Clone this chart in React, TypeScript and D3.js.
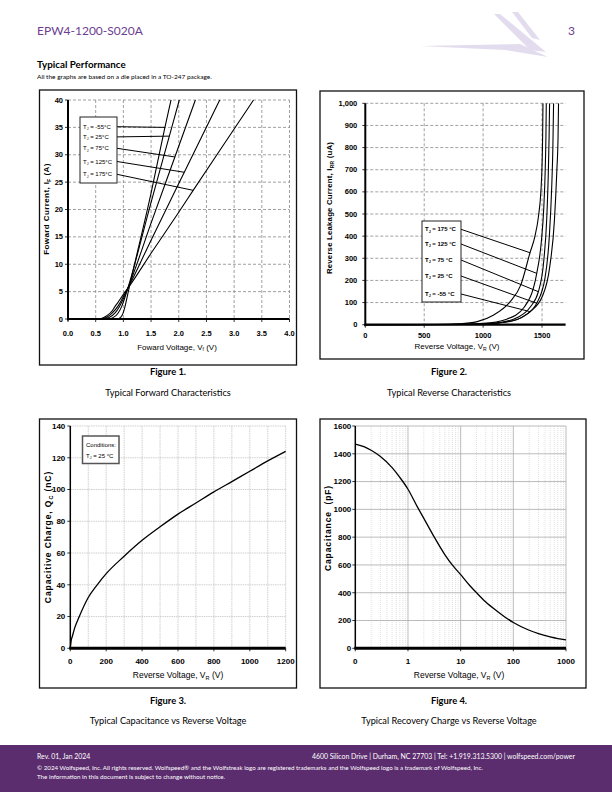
import React from 'react';
import * as d3 from 'd3';

// ---------- Figure 1 : forward characteristics ----------
const fwdLabels = ['-55°C', '25°C', '75°C', '125°C', '175°C'];
const fwdV_m55 = [0.88, 0.95, 1.0, 1.03, 1.1, 1.5, 1.75, 1.86];
const fwdI_m55 = [0, 0.3, 1.2, 2.3, 5.5, 23, 35, 40];
const fwdV_25 = [0.72, 0.82, 0.9, 0.97, 1.02, 1.08, 1.5, 1.83, 2.01];
const fwdI_25 = [0, 0.3, 1.0, 2.3, 3.7, 5.6, 21.3, 33.4, 40];
const fwdV_75 = [0.64, 0.75, 0.85, 0.93, 1.0, 1.08, 1.5, 1.93, 2.3];
const fwdI_75 = [0, 0.3, 1.1, 2.3, 3.7, 5.6, 17.5, 29.6, 40];
const fwdV_125 = [0.58, 0.7, 0.8, 0.9, 1.0, 1.08, 1.5, 2.1, 2.74];
const fwdI_125 = [0, 0.3, 1.1, 2.3, 4.1, 5.6, 14.4, 26.8, 40];
const fwdV_175 = [0.52, 0.6, 0.7, 0.8, 0.85, 0.9, 1.0, 1.08, 1.5, 2.0, 2.26, 3.0, 3.35];
const fwdI_175 = [0, 0.1, 0.6, 1.5, 2.3, 3.0, 4.5, 5.6, 12, 19.5, 23.5, 34.7, 40];
const fwdLeaderV = [1.75, 1.83, 1.93, 2.1, 2.26];
const fwdXTicks = [0, 0.5, 1.0, 1.5, 2.0, 2.5, 3.0, 3.5, 4.0];
const fwdYTicks = [0, 5, 10, 15, 20, 25, 30, 35, 40];

// ---------- Figure 2 : reverse characteristics ----------
const revLabels = ['175 °C', '125 °C', '75 °C', '25 °C', '-55 °C'];
const revV_175 = [0, 600, 800, 950, 1090, 1230, 1320, 1398, 1440, 1470, 1490, 1500, 1505, 1508];
const revI_175 = [0, 1, 4, 14, 44, 104, 180, 325, 400, 490, 600, 720, 850, 1000];
const revV_125 = [0, 700, 1000, 1200, 1350, 1455, 1495, 1515, 1527, 1533, 1536];
const revI_125 = [0, 1, 6, 25, 80, 232, 380, 530, 700, 850, 1000];
const revV_75 = [0, 800, 1100, 1300, 1400, 1469, 1515, 1540, 1553, 1560, 1564];
const revI_75 = [0, 1, 7, 35, 80, 149, 290, 480, 680, 850, 1000];
const revV_25 = [0, 900, 1200, 1350, 1455, 1525, 1562, 1582, 1592, 1598];
const revI_25 = [0, 1, 12, 40, 97, 210, 400, 620, 800, 1000];
const revV_m55 = [0, 1000, 1250, 1398, 1500, 1565, 1605, 1626, 1636, 1640];
const revI_m55 = [0, 2, 18, 59, 125, 260, 470, 700, 850, 1000];
const revLeaderV = [1398, 1455, 1469, 1455, 1398];
const revXTicks = [0, 500, 1000, 1500];
const revYTicks = [0, 100, 200, 300, 400, 500, 600, 700, 800, 900, 1000];

// ---------- Figure 3 : capacitive charge ----------
const qcV = [0, 5, 10, 25, 50, 100, 150, 200, 300, 400, 500, 600, 700, 800, 900, 1000, 1100, 1200];
const qcQ = [0, 5, 7, 13, 20, 32, 40, 47, 58, 68, 76.5, 84.5, 91.5, 98.5, 105, 111.5, 118, 124];
const qcXTicks = [0, 200, 400, 600, 800, 1000, 1200];
const qcYTicks = [0, 20, 40, 60, 80, 100, 120, 140];

// ---------- Figure 4 : capacitance ----------
const capV = [0.1, 0.15, 0.2, 0.3, 0.5, 0.7, 1, 1.5, 2, 3, 5, 7, 10, 15, 20, 30, 50, 70, 100, 200, 300, 500, 700, 1000];
const capC = [1470, 1450, 1425, 1380, 1300, 1230, 1145, 1020, 935, 815, 675, 598, 530, 450, 400, 333, 265, 224, 186, 130, 105, 82, 70, 60];
const capXTicks = [0.1, 1, 10, 100, 1000];
const capXTickLabels = ['0', '1', '10', '100', '1000'];
const capYTicks = [0, 200, 400, 600, 800, 1000, 1200, 1400, 1600];

const UI = "Lato, 'Open Sans', 'Noto Sans', sans-serif";
const CH = "'Liberation Sans Narrow', 'Liberation Sans', Arial, sans-serif";
const PURPLE = '#5c2d6e';

const zip = (a: number[], b: number[]): [number, number][] => a.map((v, i) => [v, b[i]]);
function interp(xs: number[], ys: number[], x: number) {
  for (let i = 0; i < xs.length - 1; i++) {
    if (x >= xs[i] && x <= xs[i + 1]) {
      const t = (x - xs[i]) / (xs[i + 1] - xs[i]);
      return ys[i] + t * (ys[i + 1] - ys[i]);
    }
  }
  return ys[ys.length - 1];
}

function TJ({ x, y, rest, size = 6, weight = 'normal', family = CH }: any) {
  return (
    <text x={x} y={y} fontSize={size} fontFamily={family} fontWeight={weight} fill="#000">
      T<tspan dy={1.4} fontSize={size * 0.6}>J</tspan>
      <tspan dy={-1.4}>{rest}</tspan>
    </text>
  );
}

function Fig1() {
  const x = d3.scaleLinear().domain([0, 4]).range([68, 289.5]);
  const y = d3.scaleLinear().domain([0, 40]).range([319, 100]);
  const line = d3.line<[number, number]>().x(d => x(d[0])).y(d => y(d[1])).curve(d3.curveMonotoneX);
  const series = [zip(fwdV_m55, fwdI_m55), zip(fwdV_25, fwdI_25), zip(fwdV_75, fwdI_75), zip(fwdV_125, fwdI_125), zip(fwdV_175, fwdI_175)];
  const sx = [fwdV_m55, fwdV_25, fwdV_75, fwdV_125, fwdV_175];
  const sy = [fwdI_m55, fwdI_25, fwdI_75, fwdI_125, fwdI_175];
  const labelY = [126.7, 136.9, 148.3, 161.5, 174.3];
  return (
    <g>
      <rect x={39.5} y={90} width={257} height={275} fill="none" stroke="#111" strokeWidth={1.3} />
      {fwdXTicks.slice(1).map(t => (
        <line key={'gx' + t} x1={x(t)} x2={x(t)} y1={y(40)} y2={y(0)} stroke="#888" strokeWidth={0.8} strokeDasharray="3,2" />
      ))}
      {fwdYTicks.slice(1).map(t => (
        <line key={'gy' + t} x1={x(0)} x2={x(4)} y1={y(t)} y2={y(t)} stroke="#888" strokeWidth={0.8} strokeDasharray="3,2" />
      ))}
      <clipPath id="c1"><rect x={x(0)} y={y(40) - 0.5} width={x(4) - x(0)} height={y(0) - y(40) + 1} /></clipPath>
      <g clipPath="url(#c1)">
        {series.map((s, i) => <path key={i} d={line(s) || ''} fill="none" stroke="#000" strokeWidth={1.1} />)}
      </g>
      <line x1={x(0)} x2={x(0)} y1={y(40)} y2={y(0) + 1.5} stroke="#000" strokeWidth={2} />
      <line x1={x(0) - 1} x2={x(4)} y1={y(0)} y2={y(0)} stroke="#000" strokeWidth={2.2} />
      {fwdYTicks.map(t => (
        <g key={'ty' + t}>
          <line x1={x(0) - 3} x2={x(0)} y1={y(t)} y2={y(t)} stroke="#000" strokeWidth={0.8} />
          <text x={x(0) - 5} y={y(t) + 2.6} fontSize={7.5} fontFamily={CH} fontWeight="bold" textAnchor="end">{t}</text>
        </g>
      ))}
      {fwdXTicks.map(t => (
        <g key={'tx' + t}>
          <line x1={x(t)} x2={x(t)} y1={y(0)} y2={y(0) + 3} stroke="#000" strokeWidth={0.8} />
          <text x={x(t)} y={335.5} fontSize={7.5} fontFamily={CH} fontWeight="bold" textAnchor="middle">{t.toFixed(1)}</text>
        </g>
      ))}
      <text transform="translate(49,209) rotate(-90)" fontSize={8} fontFamily="Arial, 'Liberation Sans', sans-serif" fontWeight="bold" textAnchor="middle" letterSpacing={0.4}>
        Foward Current, I<tspan dy={1.5} fontSize={5}>F</tspan><tspan dy={-1.5}> (A)</tspan>
      </text>
      <text x={177} y={349.5} fontSize={8} fontFamily={CH} textAnchor="middle">
        Foward Voltage, V<tspan dy={1.5} fontSize={5}>f</tspan><tspan dy={-1.5}> (V)</tspan>
      </text>
      {fwdLeaderV.map((v, i) => (
        <line key={'ld' + i} x1={117} y1={labelY[i]} x2={x(v)} y2={y(interp(sx[i], sy[i], v))} stroke="#000" strokeWidth={1} />
      ))}
      <rect x={80} y={117} width={37} height={66} fill="#fff" stroke="#222" strokeWidth={1} />
      {fwdLabels.map((l, i) => (
        <TJ key={'lg' + i} x={83} y={labelY[i] + 2} rest={' = ' + l} size={6} />
      ))}
    </g>
  );
}

function Fig2() {
  const x = d3.scaleLinear().domain([0, 1700]).range([365.3, 565.6]);
  const y = d3.scaleLinear().domain([0, 1000]).range([324.7, 103.3]);
  const line = d3.line<[number, number]>().x(d => x(d[0])).y(d => y(d[1])).curve(d3.curveMonotoneX);
  const sx = [revV_175, revV_125, revV_75, revV_25, revV_m55];
  const sy = [revI_175, revI_125, revI_75, revI_25, revI_m55];
  const labelY = [229.3, 244, 260, 276, 294];
  return (
    <g>
      <rect x={320} y={91} width={264} height={268} fill="none" stroke="#111" strokeWidth={1.3} />
      {revXTicks.slice(1).map(t => (
        <line key={'gx' + t} x1={x(t)} x2={x(t)} y1={y(1000)} y2={y(0)} stroke="#888" strokeWidth={0.8} strokeDasharray="3,2" />
      ))}
      {revYTicks.slice(1).map(t => (
        <line key={'gy' + t} x1={x(0)} x2={x(1700)} y1={y(t)} y2={y(t)} stroke="#888" strokeWidth={0.8} strokeDasharray="3,2" />
      ))}
      <clipPath id="c2"><rect x={x(0)} y={y(1000)} width={x(1700) - x(0)} height={y(0) - y(1000) + 1} /></clipPath>
      <g clipPath="url(#c2)">
        {sx.map((s, i) => <path key={i} d={line(zip(s, sy[i])) || ''} fill="none" stroke="#000" strokeWidth={1.1} />)}
      </g>
      <line x1={x(0)} x2={x(0)} y1={y(1000)} y2={y(0) + 1.5} stroke="#000" strokeWidth={2} />
      <line x1={x(0) - 1} x2={x(1700)} y1={y(0)} y2={y(0)} stroke="#000" strokeWidth={2.2} />
      {revYTicks.map(t => (
        <g key={'ty' + t}>
          <line x1={x(0) - 3} x2={x(0)} y1={y(t)} y2={y(t)} stroke="#000" strokeWidth={0.8} />
          <text x={x(0) - 8} y={y(t) + 2.6} fontSize={7.5} fontFamily={CH} fontWeight="bold" textAnchor="end">{d3.format(',')(t)}</text>
        </g>
      ))}
      {revXTicks.map(t => (
        <g key={'tx' + t}>
          <line x1={x(t)} x2={x(t)} y1={y(0)} y2={y(0) + 3} stroke="#000" strokeWidth={0.8} />
          <text x={x(t)} y={337.5} fontSize={7.5} fontFamily={CH} fontWeight="bold" textAnchor="middle">{t}</text>
        </g>
      ))}
      <text transform="translate(332,208) rotate(-90)" fontSize={7.8} fontFamily="Arial, 'Liberation Sans', sans-serif" fontWeight="bold" textAnchor="middle" letterSpacing={0.2}>
        Reverse Leakage Current, I<tspan dy={1.5} fontSize={5}>RR</tspan><tspan dy={-1.5}> (uA)</tspan>
      </text>
      <text x={457} y={349} fontSize={8} fontFamily={CH} textAnchor="middle">
        Reverse Voltage, V<tspan dy={1.5} fontSize={5}>R</tspan><tspan dy={-1.5}> (V)</tspan>
      </text>
      {revLeaderV.map((v, i) => (
        <line key={'ld' + i} x1={461} y1={labelY[i]} x2={x(v)} y2={y(interp(sx[i], sy[i], v))} stroke="#000" strokeWidth={1} />
      ))}
      <rect x={422} y={221} width={39} height={81} fill="#fff" stroke="#222" strokeWidth={1} />
      {revLabels.map((l, i) => (
        <TJ key={'lg' + i} x={425} y={labelY[i] + 2} rest={' = ' + l} size={6} weight="bold" />
      ))}
    </g>
  );
}

function Fig3() {
  const x = d3.scaleLinear().domain([0, 1200]).range([70.3, 285.7]);
  const y = d3.scaleLinear().domain([0, 140]).range([648.3, 426]);
  const line = d3.line<[number, number]>().x(d => x(d[0])).y(d => y(d[1])).curve(d3.curveMonotoneX);
  const vgrid = d3.range(100, 1201, 100);
  return (
    <g>
      <rect x={39.5} y={419} width={257} height={269} fill="none" stroke="#111" strokeWidth={1.3} />
      {vgrid.map(t => (
        <line key={'gx' + t} x1={x(t)} x2={x(t)} y1={y(140)} y2={y(0)} stroke="#bbb" strokeWidth={0.7} strokeDasharray="1.5,0.8" />
      ))}
      {qcYTicks.slice(1).map(t => (
        <line key={'gy' + t} x1={x(0)} x2={x(1200)} y1={y(t)} y2={y(t)} stroke="#bbb" strokeWidth={0.7} strokeDasharray="1.5,0.8" />
      ))}
      <path d={line(zip(qcV, qcQ)) || ''} fill="none" stroke="#000" strokeWidth={1.3} />
      <line x1={x(0)} x2={x(0)} y1={y(140)} y2={y(0)} stroke="#000" strokeWidth={1.5} />
      <line x1={x(0) - 1} x2={x(1200)} y1={y(0)} y2={y(0)} stroke="#000" strokeWidth={3} />
      {qcYTicks.map(t => (
        <g key={'ty' + t}>
          <line x1={x(0) - 3} x2={x(0)} y1={y(t)} y2={y(t)} stroke="#000" strokeWidth={0.8} />
          <text x={x(0) - 5} y={y(t) + 2.8} fontSize={8} fontFamily={CH} fontWeight="bold" textAnchor="end">{t}</text>
        </g>
      ))}
      {qcXTicks.map(t => (
        <g key={'tx' + t}>
          <line x1={x(t)} x2={x(t)} y1={y(0)} y2={y(0) + 3} stroke="#000" strokeWidth={0.8} />
          <text x={x(t)} y={663.5} fontSize={8} fontFamily={CH} fontWeight="bold" textAnchor="middle">{t}</text>
        </g>
      ))}
      <text transform="translate(51,537) rotate(-90)" fontSize={8.5} fontFamily="Arial, 'Liberation Sans', sans-serif" fontWeight="bold" textAnchor="middle" letterSpacing={0.9}>
        Capacitive Charge, Q<tspan dy={1.5} fontSize={5.5}>C</tspan><tspan dy={-1.5}> (nC)</tspan>
      </text>
      <text x={178} y={678} fontSize={8.5} fontFamily="Arial, 'Liberation Sans', sans-serif" textAnchor="middle">
        Reverse Voltage, V<tspan dy={1.5} fontSize={5.5}>R</tspan><tspan dy={-1.5}> (V)</tspan>
      </text>
      <rect x={82.5} y={436} width={36.5} height={27.5} fill="#fff" stroke="#555" strokeWidth={1.5} />
      <text x={86} y={447} fontSize={6} fontFamily={CH}>Conditions:</text>
      <TJ x={86} y={458} rest=" = 25 °C" size={6} />
    </g>
  );
}

function Fig4() {
  const x = d3.scaleLog().domain([0.1, 1000]).range([355.3, 566]);
  const y = d3.scaleLinear().domain([0, 1600]).range([648.3, 426]);
  const line = d3.line<[number, number]>().x(d => x(d[0])).y(d => y(d[1])).curve(d3.curveMonotoneX);
  const minor: number[] = [];
  [0.1, 1, 10, 100].forEach(d => { for (let k = 2; k <= 9; k++) minor.push(d * k); });
  return (
    <g>
      <rect x={320} y={419} width={266} height={269} fill="none" stroke="#111" strokeWidth={1.3} />
      {minor.map(t => (
        <line key={'mx' + t} x1={x(t)} x2={x(t)} y1={y(1600)} y2={y(0)} stroke="#ccc" strokeWidth={0.6} strokeDasharray="1,1" />
      ))}
      {capXTicks.slice(1).map(t => (
        <line key={'gx' + t} x1={x(t)} x2={x(t)} y1={y(1600)} y2={y(0)} stroke="#aaa" strokeWidth={0.8} />
      ))}
      {capYTicks.slice(1).map(t => (
        <line key={'gy' + t} x1={x(0.1)} x2={x(1000)} y1={y(t)} y2={y(t)} stroke="#aaa" strokeWidth={0.8} />
      ))}
      <path d={line(zip(capV, capC)) || ''} fill="none" stroke="#000" strokeWidth={1.3} />
      <line x1={x(0.1)} x2={x(0.1)} y1={y(1600)} y2={y(0)} stroke="#000" strokeWidth={1.5} />
      <line x1={x(0.1) - 1} x2={x(1000)} y1={y(0)} y2={y(0)} stroke="#000" strokeWidth={3} />
      {capYTicks.map(t => (
        <g key={'ty' + t}>
          <line x1={x(0.1) - 3} x2={x(0.1)} y1={y(t)} y2={y(t)} stroke="#000" strokeWidth={0.8} />
          <text x={x(0.1) - 4} y={y(t) + 2.8} fontSize={8} fontFamily={CH} fontWeight="bold" textAnchor="end">{t}</text>
        </g>
      ))}
      {capXTicks.map((t, i) => (
        <g key={'tx' + t}>
          <line x1={x(t)} x2={x(t)} y1={y(0)} y2={y(0) + 3} stroke="#000" strokeWidth={0.8} />
          <text x={x(t)} y={663.5} fontSize={8} fontFamily={CH} fontWeight="bold" textAnchor="middle">{capXTickLabels[i]}</text>
        </g>
      ))}
      <text transform="translate(331,528) rotate(-90)" fontSize={8.5} fontFamily="Arial, 'Liberation Sans', sans-serif" fontWeight="bold" textAnchor="middle" letterSpacing={0.9} style={{ whiteSpace: 'pre' }}>
        {'Capacitance  (pF)'}
      </text>
      <text x={459} y={678} fontSize={8.5} fontFamily="Arial, 'Liberation Sans', sans-serif" textAnchor="middle">
        Reverse Voltage, V<tspan dy={1.5} fontSize={5.5}>R</tspan><tspan dy={-1.5}> (V)</tspan>
      </text>
    </g>
  );
}

function Header() {
  return (
    <g>
      <g fill="#e3dcee">
        <polygon points="420,46 520,44 548,57 505,50" />
        <polygon points="494,14 500,14 546,52 530,50" />
        <polygon points="512,12 518,12 540,40 532,38" />
      </g>
      <text x={37} y={34.5} fontSize={12} fontFamily={UI} fill="#6c3d91">EPW4-1200-S020A</text>
      <text x={575} y={34.5} fontSize={12} fontFamily={UI} fill="#6c3d91" textAnchor="end">3</text>
      <text x={37} y={68} fontSize={9.8} fontFamily={UI} fontWeight="bold">Typical Performance</text>
      <text x={37} y={79} fontSize={6.5} fontFamily={UI}>All the graphs are based on a die placed in a TO-247 package.</text>
    </g>
  );
}

function Captions() {
  const caps = [
    { cx: 168, y1: 374.5, y2: 396, t: 'Figure 1.', s: 'Typical Forward Characteristics' },
    { cx: 449, y1: 374.5, y2: 396, t: 'Figure 2.', s: 'Typical Reverse Characteristics' },
    { cx: 168, y1: 704, y2: 724, t: 'Figure 3.', s: 'Typical Capacitance vs Reverse Voltage' },
    { cx: 449, y1: 704, y2: 724, t: 'Figure 4.', s: 'Typical Recovery Charge vs Reverse Voltage' },
  ];
  return (
    <g fontFamily={UI} textAnchor="middle">
      {caps.map(c => (
        <g key={c.t}>
          <text x={c.cx} y={c.y1} fontSize={9.4} fontWeight="bold">{c.t}</text>
          <text x={c.cx} y={c.y2} fontSize={9.2}>{c.s}</text>
        </g>
      ))}
    </g>
  );
}

function Footer() {
  return (
    <g fontFamily={UI} fill="#fff">
      <rect x={0} y={745} width={612} height={47} fill={PURPLE} />
      <text x={37} y={759} fontSize={6.9}>Rev. 01, Jan 2024</text>
      <text x={575} y={759} fontSize={6.9} textAnchor="end">4600 Silicon Drive  |  Durham, NC 27703  |  Tel: +1.919.313.5300  |  wolfspeed.com/power</text>
      <text x={37} y={769.5} fontSize={6.2}>© 2024 Wolfspeed, Inc. All rights reserved. Wolfspeed® and the Wolfstreak logo are registered trademarks and the Wolfspeed logo is a trademark of Wolfspeed, Inc.</text>
      <text x={37} y={778.5} fontSize={6.2}>The information in this document is subject to change without notice.</text>
    </g>
  );
}

export default function App() {
  return (
    <svg width={612} height={792} viewBox="0 0 612 792" style={{ position: 'absolute', left: 0, top: 0, background: '#fff' }}>
      <rect x={0} y={0} width={612} height={792} fill="#fff" />
      <Header />
      <Fig1 />
      <Fig2 />
      <Fig3 />
      <Fig4 />
      <Captions />
      <Footer />
    </svg>
  );
}
